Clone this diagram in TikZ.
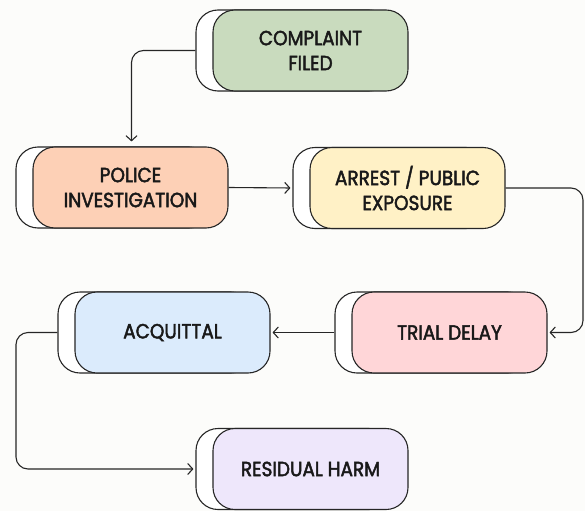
\documentclass[tikz,border=0pt]{standalone}
\usepackage{fontspec}
\setmainfont{Poppins}[UprightFeatures = {FakeBold = 2.2, FakeStretch = 0.9}]
\usetikzlibrary{calc,arrows.meta}

\definecolor{bgc}{HTML}{FCFCFA}
\definecolor{edgec}{HTML}{262626}
\definecolor{greenc}{HTML}{C9DBBE}
\definecolor{peachc}{HTML}{FDD0B6}
\definecolor{yellowc}{HTML}{FFF1C6}
\definecolor{bluec}{HTML}{DBEBFC}
\definecolor{pinkc}{HTML}{FFD6D8}
\definecolor{lavc}{HTML}{EEE7FB}

\begin{document}
\begin{tikzpicture}[x=1pt, y=-1pt,
  box/.style = {draw = edgec, line width = 1.1pt, rounded corners = 22pt, minimum width = 195pt, minimum height = 81pt, align = center, text = black!90, font = \fontsize{20.5}{25}\selectfont},
  back/.style = {box, fill = white},
  a/.style = {-{Straight Barb[length = 5pt, width = 11pt]}, line width = 1.1pt, draw = edgec, rounded corners = 12pt}]
      \fill [bgc] (0, 0) rectangle (585, 511);
      \useasboundingbox (0, 0) rectangle (585, 511);

      \node [back] (cB) at (293.5, 50.5) {};
      \node [box, fill = greenc] (c) at (310.5, 50.5) {COMPLAINT\\FILED};
      \node [back] (pB) at (113.5, 187.5) {};
      \node [box, fill = peachc] (p) at (130.5, 187.5) {POLICE\\INVESTIGATION};
      \node [back] (aB) at (390.5, 188) {};
      \node [box, fill = yellowc] (ar) at (407.5, 188) {ARREST / PUBLIC\\EXPOSURE};
      \node [back] (tB) at (432.5, 332.5) {};
      \node [box, fill = pinkc] (t) at (449.5, 332.5) {TRIAL DELAY};
      \node [back] (qB) at (155.5, 332.5) {};
      \node [box, fill = bluec] (q) at (172.5, 332.5) {ACQUITTAL};
      \node [back] (rB) at (293.5, 469) {};
      \node [box, fill = lavc] (r) at (310.5, 469) {RESIDUAL HARM};

      \coordinate (c1) at (131.5, 50.5);
      \coordinate (r1) at (583, 188);
      \coordinate (l1) at (16, 332.5);

      \draw [a, shorten > = 5pt] (cB.west) -- (c1) -- (c1 |- pB.north);
      \draw [a, shorten > = 2pt] (p.east) -- (aB.west);
      \draw [a, shorten > = 2pt] (ar.east) -- (r1) |- (t.east);
      \draw [a, shorten > = 2pt] (tB.west) -- (q.east);
      \draw [a, shorten > = 2pt] (qB.west) -- (l1) |- (rB.west);
    \end{tikzpicture}
\end{document}
